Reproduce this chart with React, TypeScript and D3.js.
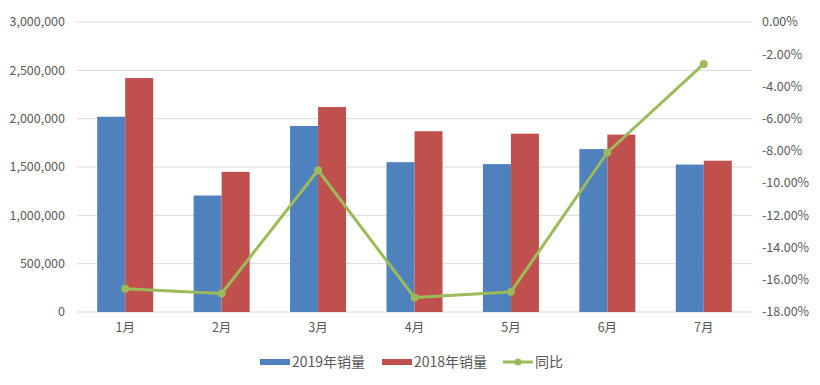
import React, { useEffect, useRef } from 'react';
import * as d3 from 'd3';

const months = ['1月', '2月', '3月', '4月', '5月', '6月', '7月'];
const sales2019 = [2020000, 1205000, 1924000, 1550000, 1530000, 1685000, 1525000];
const sales2018 = [2420000, 1450000, 2120000, 1870000, 1845000, 1835000, 1565000];
const yoy = [-16.55, -16.85, -9.2, -17.1, -16.75, -8.1, -2.6];
const seriesNames = ['2019年销量', '2018年销量', '同比'];

const BLUE = '#4F81BD';
const RED = '#C0504D';
const GREEN = '#9BBB59';
const TEXT = '#595959';
const FONT = '"Noto Sans CJK SC", "Noto Sans", sans-serif';

export default function App() {
  const ref = useRef<SVGSVGElement>(null);

  useEffect(() => {
    const width = 820;
    const height = 385;
    const margin = { left: 77, right: 68, top: 22, bottom: 73 };
    const innerW = width - margin.left - margin.right;
    const innerH = height - margin.top - margin.bottom;

    const svg = d3.select(ref.current);
    svg.selectAll('*').remove();

    const x = d3.scaleBand().domain(months).range([0, innerW]);
    const y = d3.scaleLinear().domain([0, 3000000]).range([innerH, 0]);
    const y2 = d3.scaleLinear().domain([-18, 0]).range([innerH, 0]);

    const g = svg.append('g').attr('transform', `translate(${margin.left},${margin.top})`);

    // grid
    const ticks = d3.range(0, 3000001, 500000);
    g.selectAll('line.grid').data(ticks).enter().append('line')
      .attr('class', 'grid')
      .attr('x1', 0).attr('x2', innerW)
      .attr('y1', d => y(d)).attr('y2', d => y(d))
      .attr('stroke', '#d9d9d9').attr('stroke-width', 1);

    // left axis labels
    g.selectAll('text.yl').data(ticks).enter().append('text')
      .attr('class', 'yl')
      .attr('x', -12).attr('y', d => y(d)).attr('dy', '0.35em')
      .attr('text-anchor', 'end')
      .attr('font-family', FONT).attr('font-size', 12.5).attr('fill', TEXT)
      .text(d => d3.format(',')(d));

    // right axis labels
    const pticks = d3.range(0, -18.01, -2);
    g.selectAll('text.yr').data(pticks).enter().append('text')
      .attr('class', 'yr')
      .attr('x', innerW + 10).attr('y', d => y2(d)).attr('dy', '0.35em')
      .attr('text-anchor', 'start')
      .attr('font-family', FONT).attr('font-size', 12.5).attr('fill', TEXT)
      .text(d => (d === 0 ? '0.00%' : d.toFixed(2) + '%'));

    // x labels
    g.selectAll('text.xl').data(months).enter().append('text')
      .attr('class', 'xl')
      .attr('x', d => (x(d) as number) + x.bandwidth() / 2)
      .attr('y', innerH + 20)
      .attr('text-anchor', 'middle')
      .attr('font-family', FONT).attr('font-size', 12.5).attr('fill', TEXT)
      .text(d => d);

    const barW = 28;
    g.selectAll('rect.b19').data(sales2019).enter().append('rect')
      .attr('x', (d, i) => (x(months[i]) as number) + x.bandwidth() / 2 - barW)
      .attr('y', d => y(d))
      .attr('width', barW).attr('height', d => innerH - y(d))
      .attr('fill', BLUE);
    g.selectAll('rect.b18').data(sales2018).enter().append('rect')
      .attr('x', (d, i) => (x(months[i]) as number) + x.bandwidth() / 2)
      .attr('y', d => y(d))
      .attr('width', barW).attr('height', d => innerH - y(d))
      .attr('fill', RED);

    const line = d3.line<number>()
      .x((d, i) => (x(months[i]) as number) + x.bandwidth() / 2)
      .y(d => y2(d));
    g.append('path').datum(yoy)
      .attr('d', line)
      .attr('fill', 'none').attr('stroke', GREEN).attr('stroke-width', 3)
      .attr('stroke-linejoin', 'round');
    g.selectAll('circle.pt').data(yoy).enter().append('circle')
      .attr('cx', (d, i) => (x(months[i]) as number) + x.bandwidth() / 2)
      .attr('cy', d => y2(d))
      .attr('r', 4).attr('fill', GREEN);

    // legend
    const lg = svg.append('g').attr('transform', 'translate(0,362)');
    const items = [
      { x: 260, name: seriesNames[0], color: BLUE, type: 'rect' },
      { x: 382, name: seriesNames[1], color: RED, type: 'rect' },
      { x: 503, name: seriesNames[2], color: GREEN, type: 'line' },
    ];
    items.forEach(it => {
      if (it.type === 'rect') {
        lg.append('rect').attr('x', it.x).attr('y', -3).attr('width', 30).attr('height', 6).attr('fill', it.color);
      } else {
        lg.append('line').attr('x1', it.x).attr('x2', it.x + 30).attr('y1', 0).attr('y2', 0)
          .attr('stroke', it.color).attr('stroke-width', 3);
        lg.append('circle').attr('cx', it.x + 15).attr('cy', 0).attr('r', 3.5).attr('fill', it.color);
      }
      lg.append('text').attr('x', it.x + 32).attr('y', 0).attr('dy', '0.35em')
        .attr('font-family', FONT).attr('font-size', 14).attr('fill', TEXT)
        .text(it.name);
    });
  }, []);

  return (
    <svg ref={ref} width={820} height={385}
      style={{ position: 'absolute', left: 0, top: 0, background: '#fff' }} />
  );
}
